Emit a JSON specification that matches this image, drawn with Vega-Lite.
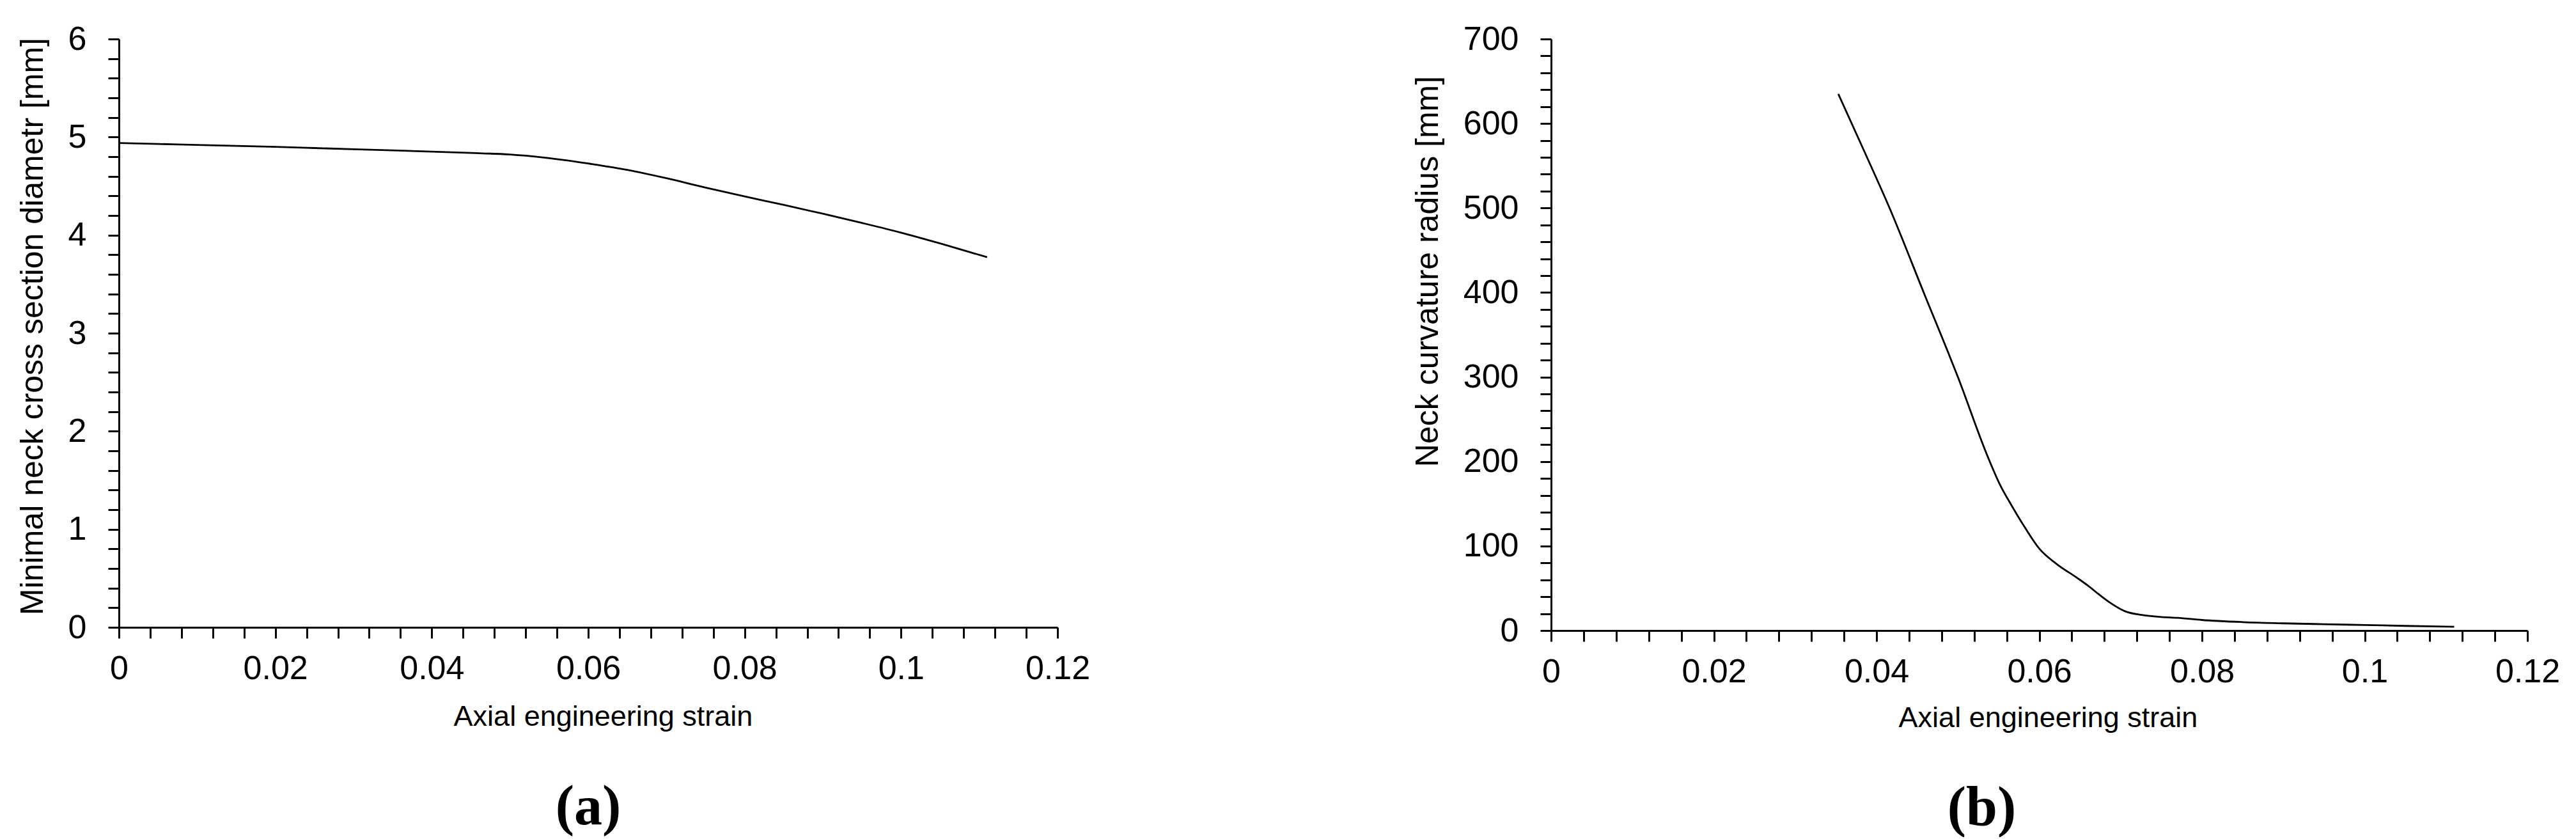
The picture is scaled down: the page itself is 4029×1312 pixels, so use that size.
{
  "$schema": "https://vega.github.io/schema/vega-lite/v6.json",
  "autosize": {"type": "pad"},
  "padding": {"left": 26, "top": 35, "right": 0, "bottom": 0},
  "background": "white",
  "bounds": "flush",
  "spacing": 772,
  "config": {
    "view": {"stroke": null},
    "axis": {
      "grid": false,
      "domainColor": "black",
      "domainWidth": 3,
      "tickColor": "black",
      "tickWidth": 3,
      "tickSize": 17,
      "labelFont": "Liberation Sans",
      "labelFontSize": 52,
      "labelColor": "black",
      "labelOverlap": false,
      "labelFlush": false,
      "labelBound": false,
      "titleFont": "Liberation Sans",
      "titleFontWeight": "normal",
      "titleColor": "black"
    }
  },
  "hconcat": [
    {
      "width": 1468,
      "height": 920,
      "title": {"text": "(a)", "orient": "bottom", "anchor": "middle", "font": "Liberation Serif", "fontSize": 88, "fontWeight": "bold", "color": "black", "offset": 76},
      "data": {"values": [
        {"strain": 0, "diameter": 4.94},
        {"strain": 0.005, "diameter": 4.93},
        {"strain": 0.01, "diameter": 4.92},
        {"strain": 0.015, "diameter": 4.91},
        {"strain": 0.02, "diameter": 4.9},
        {"strain": 0.025, "diameter": 4.888},
        {"strain": 0.03, "diameter": 4.876},
        {"strain": 0.035, "diameter": 4.864},
        {"strain": 0.04, "diameter": 4.852},
        {"strain": 0.045, "diameter": 4.838},
        {"strain": 0.05, "diameter": 4.822},
        {"strain": 0.052, "diameter": 4.81},
        {"strain": 0.0545, "diameter": 4.79},
        {"strain": 0.057, "diameter": 4.765},
        {"strain": 0.06, "diameter": 4.73},
        {"strain": 0.065, "diameter": 4.665},
        {"strain": 0.07, "diameter": 4.58},
        {"strain": 0.075, "diameter": 4.485},
        {"strain": 0.08, "diameter": 4.395},
        {"strain": 0.085, "diameter": 4.308},
        {"strain": 0.09, "diameter": 4.218},
        {"strain": 0.095, "diameter": 4.124},
        {"strain": 0.1, "diameter": 4.025},
        {"strain": 0.105, "diameter": 3.915},
        {"strain": 0.111, "diameter": 3.775}
      ]},
      "mark": {"type": "line", "color": "black", "strokeWidth": 2.8, "interpolate": "monotone"},
      "encoding": {
        "x": {
          "field": "strain", "type": "quantitative",
          "scale": {"domain": [0, 0.12], "nice": false, "zero": false},
          "axis": {
            "title": "Axial engineering strain",
            "titleFontSize": 45,
            "titleX": 757,
            "titleY": 117,
            "titleBaseline": "top",
            "labelPadding": 22,
            "values": [0,0.004,0.008,0.012,0.016,0.02,0.024,0.028,0.032,0.036,0.04,0.044,0.048,0.052,0.056,0.06,0.064,0.068,0.072,0.076,0.08,0.084,0.088,0.092,0.096,0.1,0.104,0.108,0.112,0.116,0.12],
            "labelExpr": "abs(datum.value*50 - round(datum.value*50)) < 0.01 ? format(datum.value, '~g') : ''",
            "encode": {"ticks": {"update": {
              "y": {"signal": "abs(datum.value*50 - round(datum.value*50)) < 0.01 ? -16 : 0"},
              "y2": {"signal": "abs(datum.value*50 - round(datum.value*50)) < 0.01 ? 17 : 13"}
            }}}
          }
        },
        "y": {
          "field": "diameter", "type": "quantitative",
          "scale": {"domain": [0, 6], "nice": false, "zero": false},
          "axis": {
            "title": "Minimal neck cross section diametr [mm]",
            "titleFontSize": 50,
            "titlePadding": 30,
            "titleY": 449,
            "labelPadding": 34,
            "values": [0,0.2,0.4,0.6,0.8,1,1.2,1.4,1.6,1.8,2,2.2,2.4,2.6,2.8,3,3.2,3.4,3.6,3.8,4,4.2,4.4,4.6,4.8,5,5.2,5.4,5.6,5.8,6],
            "labelExpr": "abs(datum.value - round(datum.value)) < 0.01 ? format(datum.value, '~g') : ''",
            "encode": {"ticks": {"update": {
              "x": {"signal": "abs(datum.value - round(datum.value)) < 0.01 ? 16 : 0"},
              "x2": {"signal": "abs(datum.value - round(datum.value)) < 0.01 ? -17 : -13"}
            }}}
          }
        }
      }
    },
    {
      "width": 1527,
      "height": 925,
      "title": {"text": "(b)", "orient": "bottom", "anchor": "middle", "font": "Liberation Serif", "fontSize": 88, "fontWeight": "bold", "color": "black", "offset": 76, "dx": -90},
      "data": {"values": [
        {"strain": 0.0353, "radius": 635},
        {"strain": 0.0385, "radius": 567},
        {"strain": 0.0416, "radius": 500},
        {"strain": 0.0458, "radius": 400},
        {"strain": 0.05, "radius": 300},
        {"strain": 0.0537, "radius": 205},
        {"strain": 0.0552, "radius": 172},
        {"strain": 0.0566, "radius": 148},
        {"strain": 0.0583, "radius": 121},
        {"strain": 0.06, "radius": 97},
        {"strain": 0.0621, "radius": 79},
        {"strain": 0.0647, "radius": 62},
        {"strain": 0.066, "radius": 53},
        {"strain": 0.0673, "radius": 43},
        {"strain": 0.0687, "radius": 33},
        {"strain": 0.0705, "radius": 23},
        {"strain": 0.0726, "radius": 18.4},
        {"strain": 0.075, "radius": 16},
        {"strain": 0.077, "radius": 15},
        {"strain": 0.08, "radius": 12.5},
        {"strain": 0.085, "radius": 10},
        {"strain": 0.09, "radius": 8.5},
        {"strain": 0.095, "radius": 7.5},
        {"strain": 0.1, "radius": 6.5},
        {"strain": 0.105, "radius": 5.5},
        {"strain": 0.111, "radius": 4.5}
      ]},
      "mark": {"type": "line", "color": "black", "strokeWidth": 2.8, "interpolate": "monotone"},
      "encoding": {
        "x": {
          "field": "strain", "type": "quantitative",
          "scale": {"domain": [0, 0.12], "nice": false, "zero": false},
          "axis": {
            "title": "Axial engineering strain",
            "titleFontSize": 45,
            "titleX": 777,
            "titleY": 114,
            "titleBaseline": "top",
            "labelPadding": 22,
            "values": [0,0.004,0.008,0.012,0.016,0.02,0.024,0.028,0.032,0.036,0.04,0.044,0.048,0.052,0.056,0.06,0.064,0.068,0.072,0.076,0.08,0.084,0.088,0.092,0.096,0.1,0.104,0.108,0.112,0.116,0.12],
            "labelExpr": "abs(datum.value*50 - round(datum.value*50)) < 0.01 ? format(datum.value, '~g') : ''",
            "encode": {"ticks": {"update": {
              "y": {"signal": "abs(datum.value*50 - round(datum.value*50)) < 0.01 ? -16 : 0"},
              "y2": {"signal": "abs(datum.value*50 - round(datum.value*50)) < 0.01 ? 17 : 13"}
            }}}
          }
        },
        "y": {
          "field": "radius", "type": "quantitative",
          "scale": {"domain": [0, 700], "nice": false, "zero": false},
          "axis": {
            "title": "Neck curvature radius [mm]",
            "titleFontSize": 50,
            "titlePadding": 30,
            "titleY": 363,
            "labelPadding": 34,
            "values": [0,20,40,60,80,100,120,140,160,180,200,220,240,260,280,300,320,340,360,380,400,420,440,460,480,500,520,540,560,580,600,620,640,660,680,700],
            "labelExpr": "datum.value % 100 == 0 ? format(datum.value, '~g') : ''",
            "encode": {"ticks": {"update": {
              "x": {"signal": "datum.value % 100 == 0 ? 16 : 0"},
              "x2": {"signal": "datum.value % 100 == 0 ? -17 : -13"}
            }}}
          }
        }
      }
    }
  ]
}
